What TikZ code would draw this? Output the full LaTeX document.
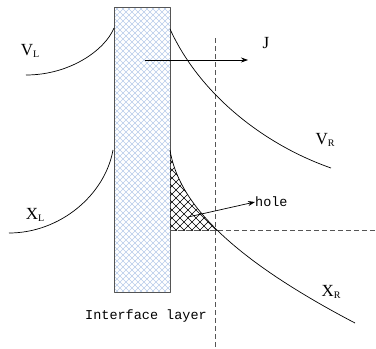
\documentclass[tikz,border=0pt]{standalone}
\usepackage{fontspec}
\setmainfont{Liberation Serif}
\setmonofont{Liberation Mono}
\usetikzlibrary{arrows.meta}
\definecolor{mesh}{HTML}{B8CCEA}
\definecolor{dgray}{HTML}{555555}
\newcommand{\bandlbl}[2]{\fontsize{17}{20}\selectfont #1\raisebox{-2.5pt}{\fontsize{10}{10}\selectfont #2}}
\tikzset{
  every picture/.style={line join=round, >={Stealth[length=7pt,width=5pt]}},
  band/.style={line width=0.7pt},
  guide/.style={dgray, dashed, dash pattern=on 5pt off 3pt, line width=0.9pt},
  monolbl/.style={font=\fontsize{13.5}{15}\selectfont\ttfamily, inner sep=0pt},
  bandtxt/.style={inner sep=0pt},
}
\begin{document}
\begin{tikzpicture}[x=1pt,y=-1pt]
\useasboundingbox (0,0) rectangle (376,349);
% interface layer
\begin{scope}
\clip (114,7) rectangle (170,292);
\foreach \i in {0,6,...,360}
  {\draw[mesh, line width=0.45pt] (114,\i-60) -- (170,\i-4);
   \draw[mesh, line width=0.45pt] (114,\i) -- (170,\i-56);}
\end{scope}
\draw[dgray, line width=0.9pt] (114,7) rectangle (170,292);
% hole region
\begin{scope}
\clip (170,150) rectangle (260,230);
\clip (170,150) .. controls (178,200) and (225,255) .. (355,323) -- (170,323) -- cycle;
\foreach \i in {0,8,...,160}
  {\draw[line width=0.7pt] (170,120+\i) -- (250,200+\i);
   \draw[line width=0.7pt] (170,140+\i) -- (250,60+\i);}
\end{scope}
% guide lines
\draw[guide] (215,38) -- (215,349);
\draw[guide] (170,230) -- (376,230);
% bands
\draw[band] (26,75) .. controls (70,75) and (105,50) .. (114,28);
\draw[band] (9,233) .. controls (60,233) and (105,195) .. (113,150);
\draw[band] (170,29) .. controls (200,95) and (265,145) .. (331,168);
\draw[band] (170,150) .. controls (178,200) and (225,255) .. (355,323);
% labels
\node[bandtxt] (vl) at (30,51) {\bandlbl{V}{L}};
\node[bandtxt] (xl) at (35,215) {\bandlbl{X}{L}};
\node[bandtxt] (vr) at (325,140) {\bandlbl{V}{R}};
\node[bandtxt] (xr) at (331,292) {\bandlbl{X}{R}};
\node[bandtxt] (j) at (266,43) {\fontsize{17}{20}\selectfont J};
\node[monolbl, anchor=west] (hole) at (255,202) {hole};
\node[monolbl] (layer) at (146,316) {Interface layer};
% arrows
\coordinate (jstart) at (145,60);
\coordinate (jend) at (248,60);
\coordinate (hstart) at (188,217);
\draw[->, line width=0.7pt] (jstart) -- (jend);
\draw[->, line width=0.7pt] (hstart) -- (hole.west);
\end{tikzpicture}
\end{document}
